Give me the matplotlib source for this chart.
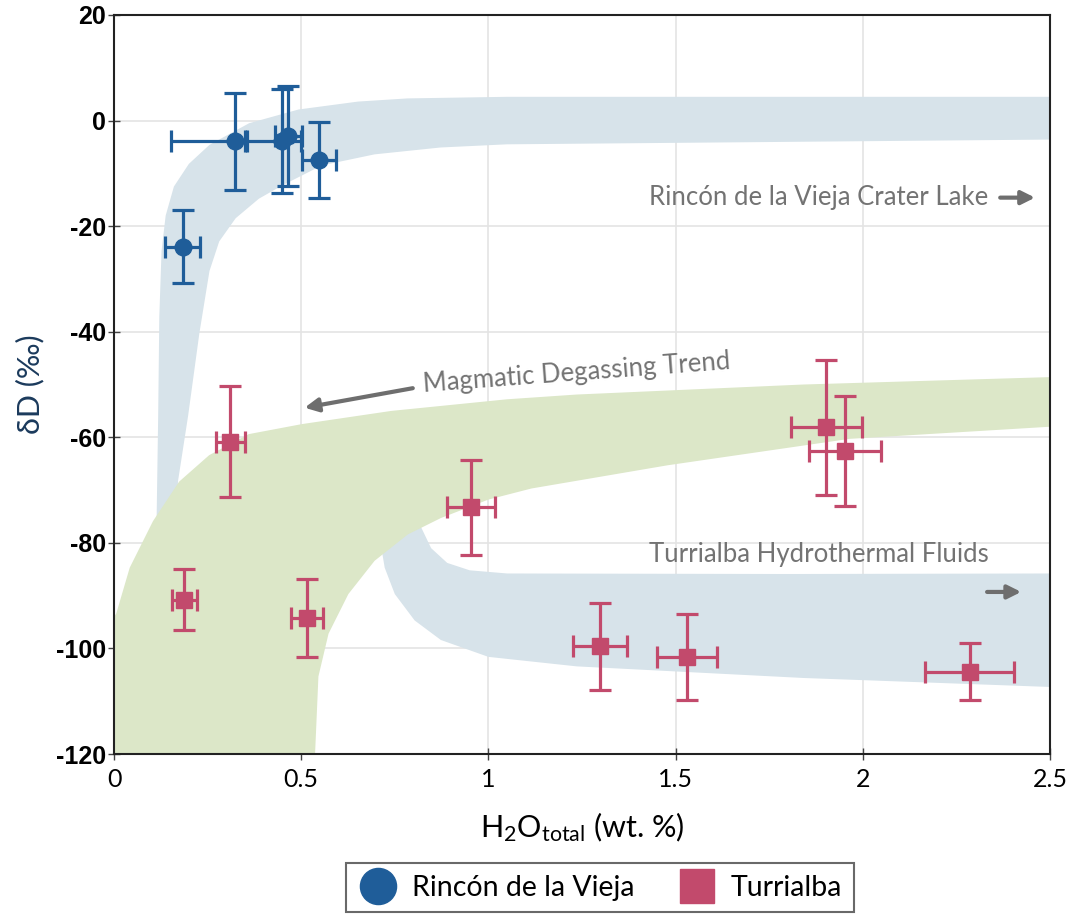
import numpy as np
import matplotlib
matplotlib.use("Agg")
import matplotlib.pyplot as plt
from matplotlib.lines import Line2D

plt.rcParams['font.family'] = ['Lato', 'DejaVu Sans']
plt.rcParams['mathtext.fontset'] = 'custom'
plt.rcParams['mathtext.rm'] = 'Lato'
plt.rcParams['mathtext.it'] = 'Lato:italic'
plt.rcParams['axes.unicode_minus'] = False

# Rincón de la Vieja melt inclusions
rv_x = [0.183, 0.324, 0.449, 0.466, 0.547]
rv_y = [-23.9, -3.9, -3.9, -2.9, -7.5]
rv_xerr_lo = [0.046, 0.172, 0.10, 0.035, 0.046]
rv_xerr_hi = [0.046, 0.030, 0.05, 0.035, 0.046]
rv_yerr = [6.9, 9.2, 9.8, 9.5, 7.2]

# Turrialba melt inclusions
tu_x = [0.311, 0.188, 0.515, 0.953, 1.298, 1.530, 1.903, 1.952, 2.285]
tu_y = [-60.8, -90.8, -94.2, -73.3, -99.6, -101.6, -58.1, -62.6, -104.4]
tu_xerr = [0.038, 0.033, 0.043, 0.064, 0.072, 0.080, 0.096, 0.096, 0.118]
tu_yerr = [10.5, 5.8, 7.4, 9.0, 8.3, 8.2, 12.8, 10.4, 5.4]

# shaded fields, boundary points
lake_outer_x = [0.110, 0.114, 0.118, 0.121, 0.127, 0.138, 0.160, 0.200, 0.255, 0.361, 0.493, 0.652, 0.784, 1.049, 2.5]
lake_outer_y = [-88, -74.6, -55.9, -37.2, -24.7, -18.0, -12.5, -8.2, -4.6, -0.5, 2.1, 3.6, 4.2, 4.5, 4.5]
lake_inner_x = [0.160, 0.171, 0.198, 0.228, 0.255, 0.281, 0.325, 0.387, 0.449, 0.555, 0.696, 0.872, 1.049, 2.5]
lake_inner_y = [-88, -68.3, -55.9, -40.3, -28.5, -22.9, -18.5, -14.8, -12.3, -8.5, -6.4, -5.1, -4.5, -3.6]

hydro_upper_x = [0.70, 0.75, 0.82, 0.847, 0.89, 0.95, 1.05, 1.8, 2.5]
hydro_upper_y = [-74, -72, -77, -81, -83.8, -85.2, -85.8, -85.9, -85.8]
hydro_lower_x = [0.70, 0.714, 0.723, 0.750, 0.803, 0.873, 1.0, 1.236, 1.842, 2.5]
hydro_lower_y = [-74, -80.9, -84.7, -89.7, -94.7, -98.4, -101.6, -103.4, -105.6, -107.3]

degas_upper_x = [0.0, 0.006, 0.042, 0.104, 0.174, 0.254, 0.36, 0.502, 0.741, 1.05, 1.236, 1.842, 2.5]
degas_upper_y = [-94, -93.4, -84.7, -75.9, -68.4, -63.4, -59.4, -57.5, -55.0, -52.8, -51.9, -50.0, -48.6]
degas_lower_x = [0.0, 0.537, 0.546, 0.573, 0.626, 0.696, 0.785, 0.873, 1.0, 1.115, 1.479, 1.964, 2.5]
degas_lower_y = [-120, -120, -105.3, -97.2, -89.7, -83.4, -78.4, -75.3, -71.8, -69.7, -65.3, -60.3, -58.0]

blue = '#1f5d99'
red = '#c24a6c'
band_blue = '#d7e3ea'
band_green = '#dce7c8'
note_gray = '#737373'

fig = plt.figure(figsize=(10.72, 9.14), dpi=100)
ax = fig.add_axes([114 / 1072, 1 - 754 / 914, (1050 - 114) / 1072, (754 - 15) / 914])

ax.fill(lake_outer_x + lake_inner_x[::-1], lake_outer_y + lake_inner_y[::-1],
        color=band_blue, lw=0, zorder=1)
ax.fill(hydro_upper_x + hydro_lower_x[::-1], hydro_upper_y + hydro_lower_y[::-1],
        color=band_blue, lw=0, zorder=1)
ax.fill(degas_upper_x + degas_lower_x[::-1], degas_upper_y + degas_lower_y[::-1],
        color=band_green, lw=0, zorder=2)

ax.errorbar(rv_x, rv_y, xerr=[rv_xerr_lo, rv_xerr_hi], yerr=rv_yerr, fmt='o',
            color=blue, ms=12, elinewidth=2.3, capsize=8, capthick=2.3, zorder=5)
ax.errorbar(tu_x, tu_y, xerr=tu_xerr, yerr=tu_yerr, fmt='s',
            color=red, ms=11, elinewidth=2.3, capsize=8, capthick=2.3, zorder=5)

# labels on the fields
arrow = dict(arrowstyle='-|>', color='#6e6e6e', lw=3, mutation_scale=20, shrinkA=0, shrinkB=0)
ax.text(1.429, -14.6, 'Rincón de la Vieja Crater Lake', fontsize=18.5, color=note_gray,
        va='center', ha='left')
ax.annotate('', xy=(2.46, -14.6), xytext=(2.367, -14.6), arrowprops=arrow)
ax.text(1.43, -82.2, 'Turrialba Hydrothermal Fluids', fontsize=18.5, color=note_gray,
        va='center', ha='left')
ax.annotate('', xy=(2.423, -89.3), xytext=(2.332, -89.3), arrowprops=arrow)
ax.text(1.237, -47.8, 'Magmatic Degassing Trend', fontsize=18.5, color=note_gray,
        va='center', ha='center', rotation=4.3)
ax.annotate('', xy=(0.509, -54.4), xytext=(0.798, -50.7), arrowprops=arrow)

ax.set_xlim(0, 2.5)
ax.set_ylim(-120, 20)
ax.set_xticks(np.arange(0, 2.51, 0.5))
ax.set_xticklabels(['0', '0.5', '1', '1.5', '2', '2.5'])
ax.set_yticks(np.arange(-120, 21, 20))
ax.grid(True, color='#e4e4e4', lw=1.2, zorder=0)
ax.set_axisbelow(True)
for s in ax.spines.values():
    s.set_color('#222222')
    s.set_linewidth(1.5)
ax.tick_params(axis='both', direction='inout', length=8, width=1, color='#444444')
ax.tick_params(axis='x', labelsize=18, pad=6)
ax.tick_params(axis='y', labelsize=18, pad=2)
for lab in ax.get_yticklabels():
    lab.set_fontfamily('Liberation Sans')
    lab.set_fontweight('bold')

ax.set_xlabel(r'H$_2$O$_{\mathrm{total}}$ (wt. %)', fontsize=22, labelpad=14)
ax.set_ylabel('δD (‰)', fontsize=22, color='#1b3a5c', labelpad=8)

handles = [Line2D([], [], marker='o', ls='', color=blue, ms=26, label='Rincón de la Vieja'),
           Line2D([], [], marker='s', ls='', color=red, ms=25, label='Turrialba')]
leg = fig.legend(handles=handles, loc='upper center', bbox_to_anchor=(600 / 1072, 1 - 849 / 914),
                 ncol=2, fontsize=20.5, frameon=True, fancybox=False, edgecolor='#444444',
                 handletextpad=0.5, columnspacing=1.5, borderpad=0.4, handlelength=1.4)
leg.get_frame().set_linewidth(1.5)

fig.savefig('out.png', dpi=100)
